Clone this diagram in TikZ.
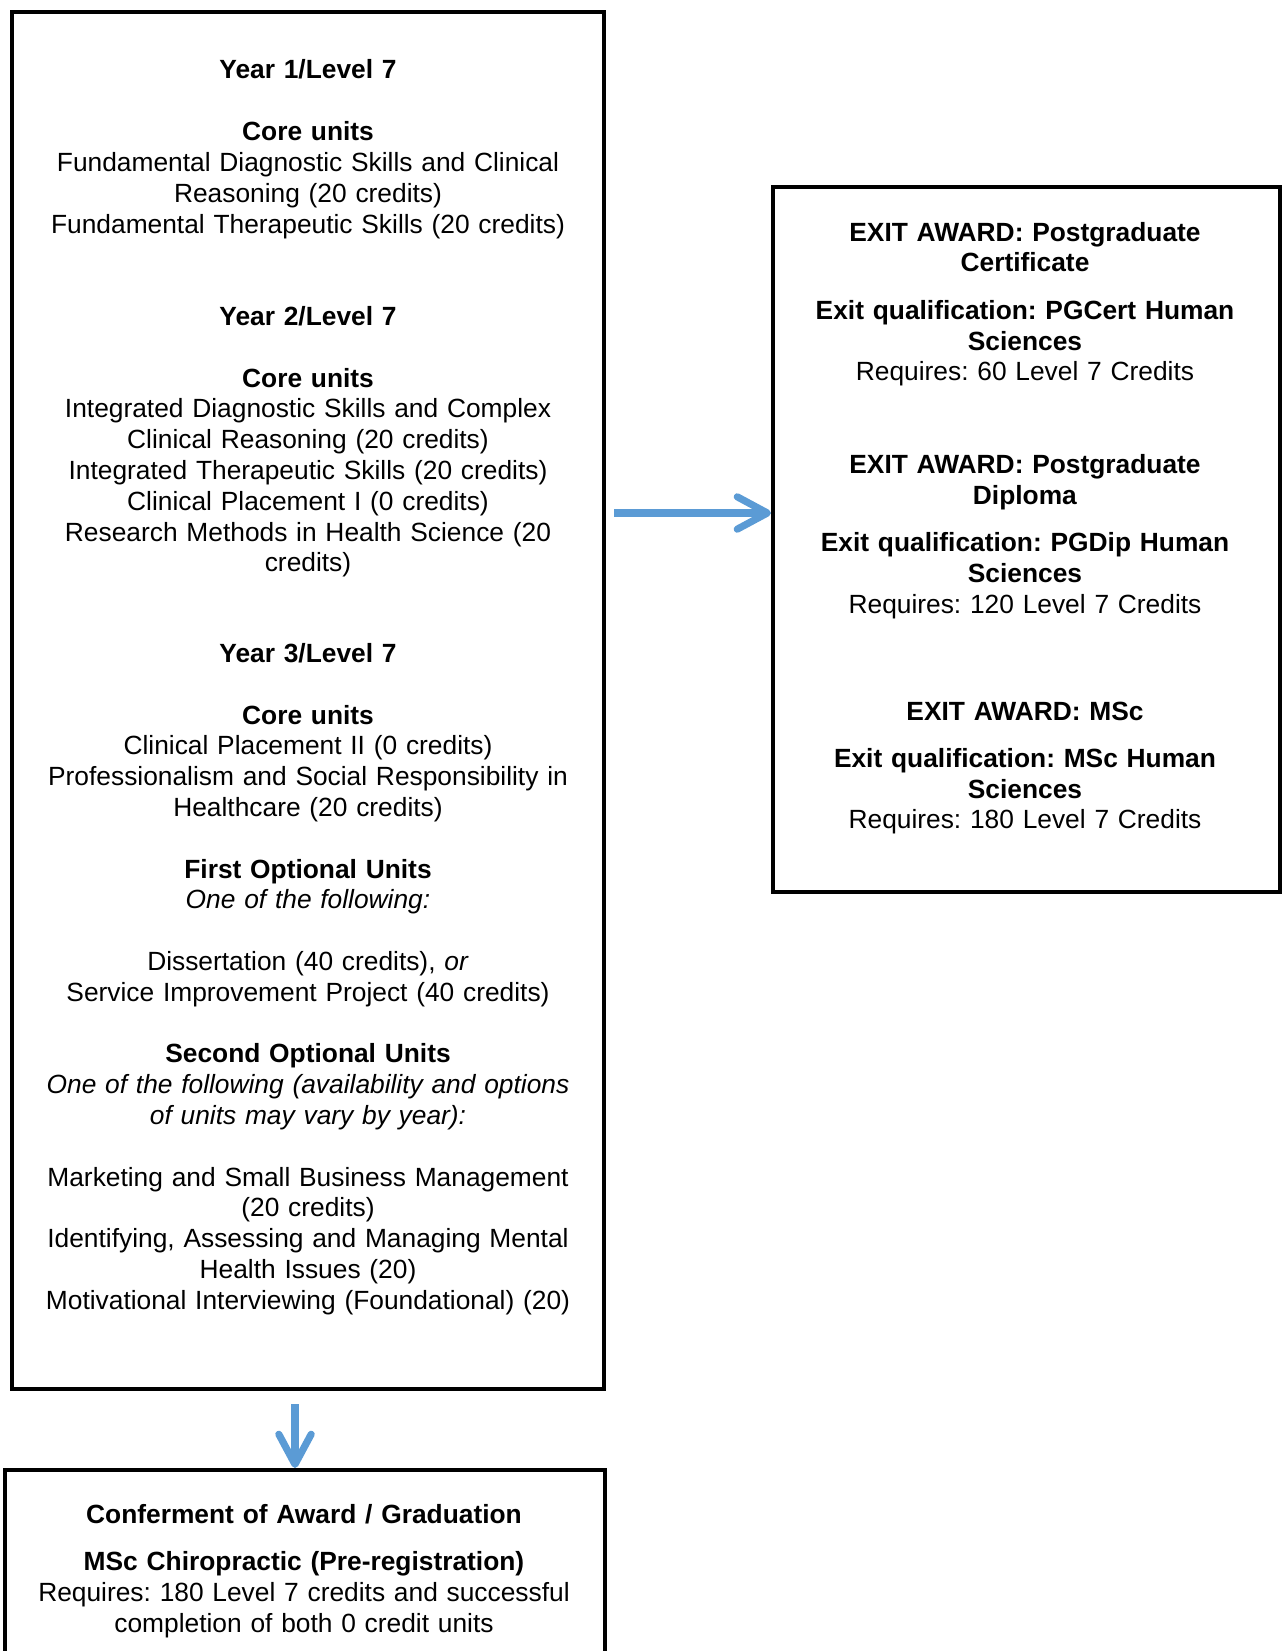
\documentclass[tikz,border=0pt]{standalone}
\usepackage{fontspec}
\setmainfont{Liberation Sans}
\usetikzlibrary{arrows.meta,fit}
\frenchspacing

\definecolor{flowblue}{RGB}{91,155,213}

\begin{document}
\begin{tikzpicture}[x=0.448pt,y=-0.448pt,
    box/.style={draw, line width=1.85pt, inner sep=0pt},
    txt/.style={anchor=base, align=center, inner sep=0pt, text width=#1,
      font=\fontsize{11.8}{13.8}\selectfont},
    txt/.default=255pt,
    flow/.style={draw=flowblue, line width=3.2pt,
      -{Straight Barb[length=13.5pt,width=14.5pt,line cap=round,line join=round]}}]
\useasboundingbox (0,0) rectangle (1284,1651);

% boxes
\node[box, fit={(12,12) (604,1389)}] (years) {};
\node[box, fit={(773,187) (1280,892)}] (exits) {};
\node[box, fit={(5,1470) (605,1720)}] (grad) {};

% left box: the three years
\node[txt] (year1) at (308,79) {\textbf{Year 1/Level 7}\\[13.8pt]
  \textbf{Core units}\\
  Fundamental Diagnostic Skills and Clinical\\
  Reasoning (20 credits)\\
  Fundamental Therapeutic Skills (20 credits)};
\node[txt] (year2) at (308,325.4) {\textbf{Year 2/Level 7}\\[13.8pt]
  \textbf{Core units}\\
  Integrated Diagnostic Skills and Complex\\
  Clinical Reasoning (20 credits)\\
  Integrated Therapeutic Skills (20 credits)\\
  Clinical Placement I (0 credits)\\
  Research Methods in Health Science (20\\
  credits)};
\node[txt] (year3) at (308,662.5) {\textbf{Year 3/Level 7}\\[13.8pt]
  \textbf{Core units}\\
  Clinical Placement II (0 credits)\\
  Professionalism and Social Responsibility in\\
  Healthcare (20 credits)\\[13.8pt]
  \textbf{First Optional Units}\\
  \textit{One of the following:}\\[13.8pt]
  Dissertation (40 credits), \textit{or}\\
  Service Improvement Project (40 credits)\\[13.8pt]
  \textbf{Second Optional Units}\\
  \textit{One of the following (availability and options}\\
  \textit{of units may vary by year):}\\[13.8pt]
  Marketing and Small Business Management\\
  (20 credits)\\
  Identifying, Assessing and Managing Mental\\
  Health Issues (20)\\
  Motivational Interviewing (Foundational) (20)};

% right box: exit awards
\node[txt=215pt] (cert) at (1025,241.1) {\textbf{EXIT AWARD: Postgraduate}\\
  \textbf{Certificate}\\[7.4pt]
  \textbf{Exit qualification: PGCert Human}\\
  \textbf{Sciences}\\
  Requires: 60 Level 7 Credits};
\node[txt=215pt] (dip) at (1025,473.6) {\textbf{EXIT AWARD: Postgraduate}\\
  \textbf{Diploma}\\[7.4pt]
  \textbf{Exit qualification: PGDip Human}\\
  \textbf{Sciences}\\
  Requires: 120 Level 7 Credits};
\node[txt=215pt] (msc) at (1025,720) {\textbf{EXIT AWARD: MSc}\\[7.4pt]
  \textbf{Exit qualification: MSc Human}\\
  \textbf{Sciences}\\
  Requires: 180 Level 7 Credits};

% bottom box: graduation
\node[txt] (award) at (304,1523.1) {\textbf{Conferment of Award / Graduation}\\[7.4pt]
  \textbf{MSc Chiropractic (Pre-registration)}\\
  Requires: 180 Level 7 credits and successful\\
  completion of both 0 credit units};

% arrows
\coordinate (exitrow) at (0,513);
\coordinate (downcol) at (295,0);
\draw[flow] ([xshift=3.6pt]years.east |- exitrow) -- (exits.west |- exitrow);
\draw[flow] ([yshift=-5.8pt]years.south -| downcol) -- (grad.north -| downcol);
\end{tikzpicture}
\end{document}
